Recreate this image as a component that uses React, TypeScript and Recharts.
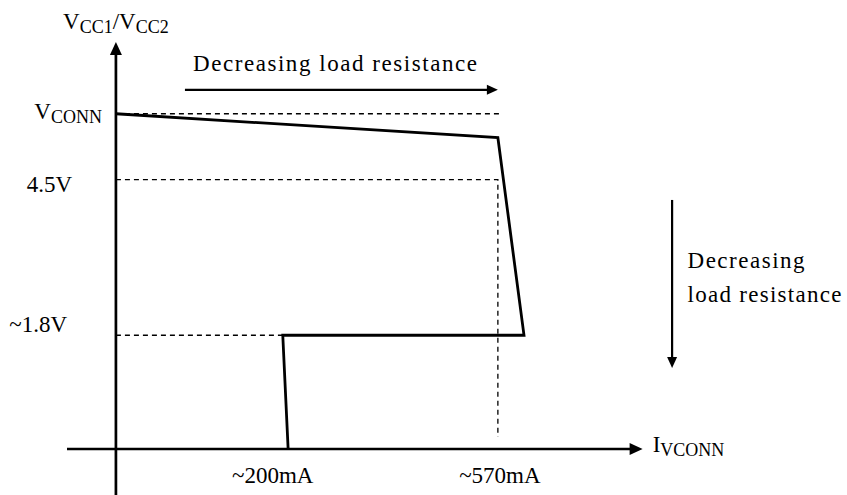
import React from 'react';
import { ComposedChart, Line, XAxis, YAxis, ReferenceLine, ReferenceDot } from 'recharts';

// Schematic V/I curve (x in diagram current units, v in volts)
const CURVE_X = [0, 570, 609, 249, 257];
const CURVE_V = [5.6, 5.2, 1.9, 1.9, 0];

// dashed guide lines
const VCONN_GUIDE_X = [0, 573];
const VCONN_GUIDE_V = [5.6, 5.6];
const LIMIT_GUIDE_X = [0, 570, 570];
const LIMIT_GUIDE_V = [4.5, 4.5, 0.2];
const LOW_GUIDE_X = [0, 249];
const LOW_GUIDE_V = [1.9, 1.9];

// ticks
const X_TICK_AT = [234, 573];
const X_TICK_LABELS = ['~200mA', '~570mA'];
const Y_TICK_AT = [5.6, 4.5, 1.9];
const Y_TICK_MAIN = ['V', '4.5V', '~1.8V'];
const Y_TICK_SUB = ['CONN', '', ''];

const X_DOMAIN: [number, number] = [-73, 1091];
const Y_DOMAIN: [number, number] = [0, 7.5];

const FONT = "'Liberation Serif', Tinos, 'Times New Roman', Times, 'DejaVu Serif', serif";
const MAIN_SIZE = 23;
const SUB_SIZE = 18;

// label placement (pixels, relative to tick anchor)
const Y_TICK_END_DX = [35, 5, 0];
const Y_TICK_DY = [5.5, 12, -3];

const toRows = (xs: number[], vs: number[]) => xs.map((x, i) => ({ x, v: vs[i] }));

const txt = { fontFamily: FONT };

const arrowShape = (headLen: number, halfW: number, width: number) => (p: any) => {
  const { x1, y1, x2, y2 } = p;
  const dx = x2 - x1;
  const dy = y2 - y1;
  const len = Math.sqrt(dx * dx + dy * dy) || 1;
  const ux = dx / len;
  const uy = dy / len;
  const bx = x2 - ux * headLen;
  const by = y2 - uy * headLen;
  const pts = `${x2},${y2} ${bx - uy * halfW},${by + ux * halfW} ${bx + uy * halfW},${by - ux * halfW}`;
  return (
    <g>
      <line x1={x1} y1={y1} x2={bx + ux} y2={by + uy} stroke="#000" strokeWidth={width} />
      <polygon points={pts} fill="#000" />
    </g>
  );
};

const YTick = (props: any) => {
  const { x, y, index } = props;
  return (
    <text
      x={x + Y_TICK_END_DX[index]}
      y={y + Y_TICK_DY[index]}
      textAnchor="end"
      style={txt}
      fontSize={MAIN_SIZE}
      fill="#000"
    >
      {Y_TICK_MAIN[index]}
      {Y_TICK_SUB[index] && (
        <tspan fontSize={SUB_SIZE} dy={4}>
          {Y_TICK_SUB[index]}
        </tspan>
      )}
    </text>
  );
};

const XTick = (props: any) => {
  const { x, y, index } = props;
  return (
    <text x={x} y={y + 34} textAnchor="middle" style={txt} fontSize={MAIN_SIZE} fill="#000">
      {X_TICK_LABELS[index]}
    </text>
  );
};

const textShape = (render: (cx: number, cy: number) => React.ReactNode) => (p: any) => (
  <g>{render(p.cx, p.cy)}</g>
);

export default function App() {
  return (
    <div style={{ position: 'absolute', left: 0, top: 0, width: 847, height: 495, background: '#fff', fontFamily: FONT }}>
      <ComposedChart width={847} height={495} margin={{ top: 0, right: 0, bottom: 0, left: 0 }}>
        <XAxis
          type="number"
          dataKey="x"
          domain={X_DOMAIN}
          allowDataOverflow
          ticks={X_TICK_AT}
          interval={0}
          tick={<XTick />}
          tickSize={0}
          tickMargin={0}
          axisLine={false}
          tickLine={false}
          height={46}
        />
        <YAxis
          type="number"
          domain={Y_DOMAIN}
          allowDataOverflow
          ticks={Y_TICK_AT}
          interval={0}
          tick={<YTick />}
          tickSize={0}
          tickMargin={0}
          axisLine={false}
          tickLine={false}
          width={67}
        />

        {/* dashed guides */}
        <Line data={toRows(VCONN_GUIDE_X, VCONN_GUIDE_V)} dataKey="v" type="linear" stroke="#000"
          strokeWidth={1.3} strokeDasharray="5 4" dot={false} activeDot={false} isAnimationActive={false} />
        <Line data={toRows(LIMIT_GUIDE_X, LIMIT_GUIDE_V)} dataKey="v" type="linear" stroke="#000"
          strokeWidth={1.3} strokeDasharray="5 4" dot={false} activeDot={false} isAnimationActive={false} />
        <Line data={toRows(LOW_GUIDE_X, LOW_GUIDE_V)} dataKey="v" type="linear" stroke="#000"
          strokeWidth={1.3} strokeDasharray="5 4" dot={false} activeDot={false} isAnimationActive={false} />

        {/* main curve */}
        <Line data={toRows(CURVE_X, CURVE_V)} dataKey="v" type="linear" stroke="#000" strokeWidth={2.8}
          strokeLinejoin="miter" dot={false} activeDot={false} isAnimationActive={false} />

        {/* axes */}
        <ReferenceLine segment={[{ x: 0, y: -0.77 }, { x: 0, y: 6.8 }]} ifOverflow="visible"
          shape={arrowShape(13, 6, 2.7)} />
        <ReferenceLine segment={[{ x: -73, y: 0 }, { x: 786, y: 0 }]} ifOverflow="visible"
          shape={arrowShape(13, 6, 2.7)} />

        {/* annotation arrows */}
        <ReferenceLine segment={[{ x: 103, y: 6.0 }, { x: 570, y: 6.0 }]} ifOverflow="visible"
          shape={arrowShape(11, 5, 2.2)} />
        <ReferenceLine segment={[{ x: 830, y: 4.16 }, { x: 830, y: 1.353 }]} ifOverflow="visible"
          shape={arrowShape(11, 5, 2.2)} />

        {/* texts */}
        <ReferenceDot x={0} y={7.02} ifOverflow="visible" shape={textShape((cx, cy) => (
          <text x={cx} y={cy} textAnchor="middle" style={txt} fontSize={MAIN_SIZE} fill="#000">
            V<tspan fontSize={SUB_SIZE} dy={4}>CC1</tspan><tspan dy={-4}>/V</tspan>
            <tspan fontSize={SUB_SIZE} dy={4}>CC2</tspan>
          </text>
        ))} />
        <ReferenceDot x={801} y={-0.05} ifOverflow="visible" shape={textShape((cx, cy) => (
          <text x={cx} y={cy} textAnchor="start" style={txt} fontSize={MAIN_SIZE} fill="#000">
            I<tspan fontSize={SUB_SIZE} dy={4}>VCONN</tspan>
          </text>
        ))} />
        <ReferenceDot x={115} y={6.31} ifOverflow="visible" shape={textShape((cx, cy) => (
          <text x={cx} y={cy} style={txt} fontSize={MAIN_SIZE} fill="#000"
            textLength={284} lengthAdjust="spacing">
            Decreasing load resistance
          </text>
        ))} />
        <ReferenceDot x={853} y={3.02} ifOverflow="visible" shape={textShape((cx, cy) => (
          <text x={cx} y={cy} style={txt} fontSize={MAIN_SIZE} fill="#000"
            textLength={117} lengthAdjust="spacing">
            Decreasing
          </text>
        ))} />
        <ReferenceDot x={853} y={2.455} ifOverflow="visible" shape={textShape((cx, cy) => (
          <text x={cx} y={cy} style={txt} fontSize={MAIN_SIZE} fill="#000"
            textLength={154} lengthAdjust="spacing">
            load resistance
          </text>
        ))} />
      </ComposedChart>
    </div>
  );
}
